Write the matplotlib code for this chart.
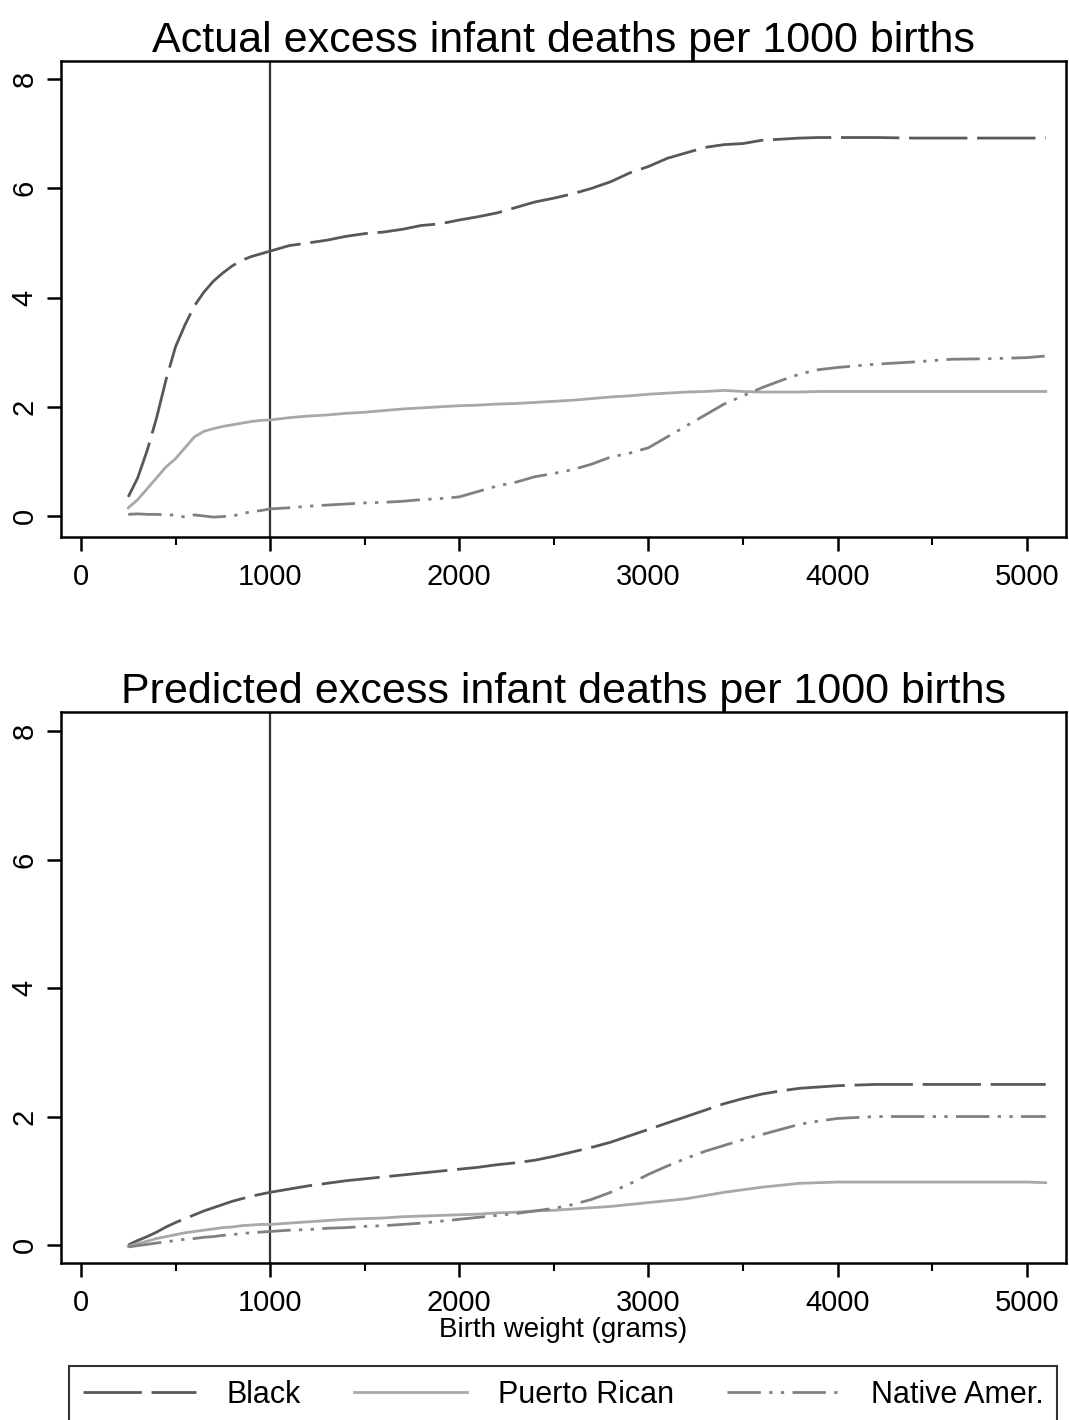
import matplotlib
matplotlib.use("Agg")
import matplotlib.pyplot as plt
import numpy as np
from matplotlib.ticker import MultipleLocator

plt.rcParams['font.family'] = ['Liberation Sans', 'DejaVu Sans']

# birth weight grid (grams)
bw = [250, 300, 350, 400, 450, 500, 550, 600, 650, 700, 750, 800, 850, 900, 950,
      1000, 1100, 1200, 1300, 1400, 1500, 1600, 1700, 1800, 1900, 2000, 2100, 2200,
      2300, 2400, 2500, 2600, 2700, 2800, 2900, 3000, 3100, 3200, 3300, 3400, 3500,
      3600, 3700, 3800, 3900, 4000, 4200, 4400, 4600, 4800, 5000, 5100]

# actual excess deaths
act_black = [0.35, 0.7, 1.2, 1.8, 2.5, 3.1, 3.5, 3.85, 4.1, 4.3, 4.45, 4.58, 4.68, 4.75, 4.8,
             4.85, 4.95, 5.0, 5.05, 5.12, 5.17, 5.2, 5.25, 5.32, 5.35, 5.42, 5.48, 5.55,
             5.65, 5.75, 5.82, 5.9, 6.0, 6.12, 6.28, 6.4, 6.55, 6.65, 6.75, 6.8, 6.82,
             6.88, 6.9, 6.92, 6.93, 6.93, 6.93, 6.92, 6.92, 6.92, 6.92, 6.92]
act_pr = [0.15, 0.3, 0.5, 0.7, 0.9, 1.05, 1.25, 1.45, 1.55, 1.6, 1.64, 1.67, 1.7, 1.73, 1.75,
          1.76, 1.8, 1.83, 1.85, 1.88, 1.9, 1.93, 1.96, 1.98, 2.0, 2.02, 2.03, 2.05,
          2.06, 2.08, 2.1, 2.12, 2.15, 2.18, 2.2, 2.23, 2.25, 2.27, 2.28, 2.3, 2.28,
          2.27, 2.27, 2.27, 2.28, 2.28, 2.28, 2.28, 2.28, 2.28, 2.28, 2.28]
act_nat = [0.03, 0.04, 0.03, 0.03, 0.02, 0.02, -0.02, 0.02, 0.0, -0.02, -0.01, 0.0, 0.04, 0.08, 0.1,
           0.13, 0.15, 0.18, 0.2, 0.22, 0.24, 0.25, 0.27, 0.3, 0.32, 0.35, 0.45, 0.55,
           0.62, 0.72, 0.78, 0.85, 0.95, 1.08, 1.15, 1.25, 1.45, 1.65, 1.85, 2.05, 2.2,
           2.35, 2.48, 2.6, 2.68, 2.72, 2.78, 2.82, 2.87, 2.88, 2.9, 2.93]

# predicted excess deaths
pred_black = [0.0, 0.07, 0.13, 0.2, 0.28, 0.35, 0.41, 0.47, 0.53, 0.58, 0.63, 0.68, 0.72, 0.76, 0.79,
              0.82, 0.87, 0.92, 0.96, 1.0, 1.03, 1.06, 1.09, 1.12, 1.15, 1.18, 1.21, 1.25,
              1.28, 1.32, 1.38, 1.45, 1.52, 1.6, 1.7, 1.8, 1.9, 2.0, 2.1, 2.2, 2.28,
              2.35, 2.4, 2.44, 2.46, 2.48, 2.5, 2.5, 2.5, 2.5, 2.5, 2.5]
pred_pr = [-0.02, 0.02, 0.06, 0.1, 0.13, 0.16, 0.19, 0.21, 0.23, 0.25, 0.27, 0.28, 0.3, 0.31, 0.32,
           0.32, 0.34, 0.36, 0.38, 0.4, 0.41, 0.42, 0.44, 0.45, 0.46, 0.47, 0.48, 0.5,
           0.51, 0.53, 0.54, 0.56, 0.58, 0.6, 0.63, 0.66, 0.69, 0.72, 0.77, 0.82, 0.86,
           0.9, 0.93, 0.96, 0.97, 0.98, 0.98, 0.98, 0.98, 0.98, 0.98, 0.97]
pred_nat = [-0.03, -0.01, 0.01, 0.03, 0.05, 0.07, 0.09, 0.1, 0.12, 0.13, 0.15, 0.16, 0.18, 0.19, 0.2,
            0.21, 0.23, 0.24, 0.26, 0.27, 0.29, 0.3, 0.32, 0.34, 0.37, 0.4, 0.43, 0.46,
            0.49, 0.53, 0.57, 0.63, 0.71, 0.82, 0.95, 1.1, 1.23, 1.35, 1.46, 1.55, 1.64,
            1.72, 1.8, 1.88, 1.93, 1.97, 2.0, 2.0, 2.0, 2.0, 2.0, 2.0]

titles = ['Actual excess infant deaths per 1000 births',
          'Predicted excess infant deaths per 1000 births']
labels = ['Black', 'Puerto Rican', 'Native Amer.']

fig = plt.figure(figsize=(10.69, 14.2), dpi=100)
ax1 = fig.add_axes([0.0568, 0.6218, 0.9400, 0.3352])
ax2 = fig.add_axes([0.0568, 0.1106, 0.9400, 0.3880])

styles = [dict(color='#585858', dashes=(21, 3.5)),
          dict(color='#a8a8a8'),
          dict(color='#808080', dashes=(12, 3, 1.2, 3, 1.2, 3))]

sets = [(ax1, [act_black, act_pr, act_nat], (-0.385, 8.33)),
        (ax2, [pred_black, pred_pr, pred_nat], (-0.28, 8.3))]

for (ax, ys, ylim), title in zip(sets, titles):
    ax.axvline(1000, color='#333333', lw=1.6, zorder=1)
    for y, st, lab in zip(ys, styles, labels):
        ax.plot(bw, y, lw=2.0, label=lab, **st)
    ax.set_xlim(-107, 5205)
    ax.set_ylim(*ylim)
    ax.set_title(title, fontsize=31, pad=2)
    ax.set_xticks([0, 1000, 2000, 3000, 4000, 5000])
    ax.xaxis.set_minor_locator(MultipleLocator(500))
    ax.set_yticks([0, 2, 4, 6, 8])
    ax.tick_params(axis='both', which='major', length=10, width=1.8, labelsize=21)
    ax.tick_params(axis='x', which='major', pad=9)
    ax.tick_params(axis='y', which='major', pad=6)
    ax.tick_params(axis='x', which='minor', length=6, width=1.5)
    for lbl in ax.get_yticklabels():
        lbl.set_rotation(90)
        lbl.set_va('center')
    for sp in ax.spines.values():
        sp.set_linewidth(1.8)

ax2.set_xlabel('Birth weight (grams)', fontsize=20, labelpad=0)

handles, _ = ax2.get_legend_handles_labels()
leg = fig.legend(handles, labels, loc='upper left', ncol=3, mode='expand',
                 bbox_to_anchor=(0.0645, 0.0, 0.9247, 0.0380), fontsize=22,
                 fancybox=False, edgecolor='black', handlelength=3.7,
                 borderpad=0.45, borderaxespad=0, columnspacing=1.2, handletextpad=1.0)
leg.get_frame().set_linewidth(1.5)

fig.savefig('out.png', dpi=100)
